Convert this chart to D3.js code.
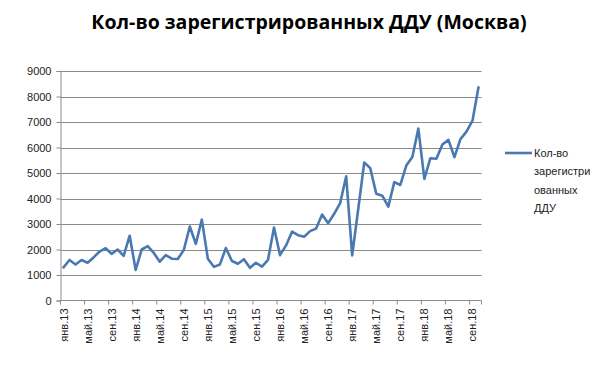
<!DOCTYPE html>
<html>
<head>
<meta charset="utf-8">
<script src="https://d3js.org/d3.v7.min.js"></script>
<style>
  body { margin: 0; background: #fff; }
  svg { display: block; }
</style>
</head>
<body>
<svg id="svg" width="599" height="380"></svg>
<script>

// data: monthly count, Jan 2013 .. Oct 2018
var monthNames = ["янв","фев","мар","апр","май","июн","июл","авг","сен","окт","ноя","дек"];
var years = ["13","14","15","16","17","18"];
var values = [
  1300, 1590, 1410, 1590, 1480, 1690, 1920, 2050, 1830, 2000,
  1750, 2540, 1200, 2000, 2130, 1870, 1520, 1780, 1640, 1630,
  1980, 2900, 2220, 3170, 1640, 1320, 1410, 2060, 1550, 1440,
  1620, 1280, 1480, 1330, 1590, 2860, 1780, 2160, 2700, 2560,
  2500, 2720, 2820, 3370, 3030, 3400, 3820, 4870, 1770, 3580,
  5410, 5190, 4190, 4110, 3680, 4640, 4530, 5290, 5630, 6740,
  4770, 5580, 5560, 6120, 6300, 5620, 6330, 6620, 7050, 8360
];
var categories = [];
years.forEach(function(y) {
  monthNames.forEach(function(m) { categories.push(m + "." + y); });
});
categories = categories.slice(0, values.length);
var yTicks = [0, 1000, 2000, 3000, 4000, 5000, 6000, 7000, 8000, 9000];
var title = "Кол-во зарегистрированных ДДУ (Москва)";
var legendLines = ["Кол-во", "зарегистри", "ованных", "ДДУ"];

var svg = d3.select("svg");
var plotLeft = 60.5, plotRight = 481.5, plotTop = 71, plotBottom = 300.5;
var font = "'Liberation Sans', Arial, sans-serif";

var x = d3.scaleBand()
  .domain(d3.range(values.length))
  .range([plotLeft, plotRight])
  .padding(0);

var y = d3.scaleLinear()
  .domain([0, 9000])
  .range([plotBottom, plotTop]);

// title
svg.append("text")
  .attr("x", 309)
  .attr("y", 29)
  .attr("text-anchor", "middle")
  .style("font-family", "'Open Sans', sans-serif")
  .style("font-weight", "bold")
  .style("font-size", "19.5px")
  .attr("fill", "#000")
  .text(title);

// gridlines
svg.append("g")
  .selectAll("line")
  .data(yTicks.slice(1))
  .enter()
  .append("line")
    .attr("x1", plotLeft)
    .attr("x2", plotRight)
    .attr("y1", function(d) { return Math.round(y(d)) + 0.5; })
    .attr("y2", function(d) { return Math.round(y(d)) + 0.5; })
    .attr("stroke", "#8a8a8a")
    .attr("stroke-width", 1);

// y axis
var yAxis = svg.append("g")
  .attr("transform", "translate(" + plotLeft + ",0)")
  .call(d3.axisLeft(y).tickValues(yTicks).tickSize(4).tickPadding(5).tickFormat(d3.format("d")));
yAxis.select(".domain").attr("stroke", "#8a8a8a");
yAxis.selectAll(".tick line").attr("stroke", "#8a8a8a");
yAxis.selectAll(".tick text")
  .style("font-family", font)
  .style("font-size", "11px")
  .attr("fill", "#222");

// x axis
var xAxis = svg.append("g")
  .attr("transform", "translate(0," + plotBottom + ")");
xAxis.append("line")
  .attr("x1", plotLeft).attr("x2", plotRight)
  .attr("y1", 0).attr("y2", 0)
  .attr("stroke", "#8a8a8a");
var tickIdx = d3.range(0, values.length, 4);
xAxis.selectAll("line.tk")
  .data(tickIdx.concat([values.length]))
  .enter()
  .append("line")
    .attr("class", "tk")
    .attr("x1", function(d) { return d < values.length ? x(d) : plotRight; })
    .attr("x2", function(d) { return d < values.length ? x(d) : plotRight; })
    .attr("y1", 0).attr("y2", 4)
    .attr("stroke", "#8a8a8a");
xAxis.selectAll("text")
  .data(tickIdx)
  .enter()
  .append("text")
    .attr("transform", function(d) {
      return "translate(" + (x(d) + x.bandwidth() / 2 + 4) + ",8) rotate(-90)";
    })
    .attr("text-anchor", "end")
    .style("font-family", font)
    .style("font-size", "11px")
    .attr("fill", "#222")
    .text(function(d) { return categories[d]; });

// line
var line = d3.line()
  .x(function(d, i) { return x(i) + x.bandwidth() / 2; })
  .y(function(d) { return y(d); });

svg.append("path")
  .datum(values)
  .attr("d", line)
  .attr("fill", "none")
  .attr("stroke", "#4a78b0")
  .attr("stroke-width", 2.6)
  .attr("stroke-linejoin", "round")
  .attr("stroke-linecap", "round");

// legend
var lg = svg.append("g");
lg.append("line")
  .attr("x1", 505).attr("x2", 532)
  .attr("y1", 153).attr("y2", 153)
  .attr("stroke", "#4a78b0")
  .attr("stroke-width", 2.6);
lg.selectAll("text")
  .data(legendLines)
  .enter()
  .append("text")
    .attr("x", 534)
    .attr("y", function(d, i) { return 157 + i * 18.3; })
    .style("font-family", font)
    .style("font-size", "11px")
    .attr("fill", "#222")
    .text(function(d) { return d; });

</script>
</body>
</html>
